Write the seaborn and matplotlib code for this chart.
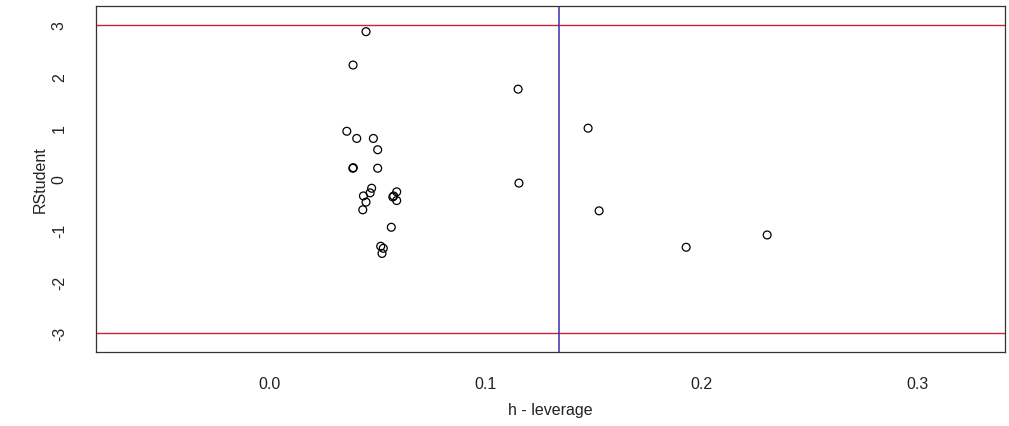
import matplotlib
matplotlib.use("Agg")
import matplotlib.pyplot as plt
import seaborn as sns
import pandas as pd

# Data
leverage = [0.0449, 0.0389, 0.1153, 0.1477, 0.0360, 0.0406, 0.0483, 0.0503,
            0.0388, 0.0390, 0.0503, 0.1157, 0.0475, 0.0468, 0.0437, 0.0449,
            0.0434, 0.0591, 0.0573, 0.0577, 0.0591, 0.1528, 0.0566, 0.0517,
            0.0529, 0.0523, 0.1931, 0.2306]
rstudent = [2.87, 2.22, 1.75, 0.99, 0.93, 0.79, 0.79, 0.57,
            0.21, 0.22, 0.21, -0.08, -0.18, -0.27, -0.33, -0.45,
            -0.60, -0.25, -0.35, -0.33, -0.42, -0.62, -0.94, -1.31,
            -1.35, -1.45, -1.33, -1.09]
h_cutoff = 0.1343
r_cutoffs = [3, -3]
x_ticks = [0.0, 0.1, 0.2, 0.3]
y_ticks = [-3, -2, -1, 0, 1, 2, 3]

df = pd.DataFrame({"h": leverage, "r": rstudent})

sns.set_style("white")
plt.rcParams['font.family'] = ['Liberation Sans', 'DejaVu Sans']

fig = plt.figure(figsize=(10.09, 4.27), dpi=100)
ax = fig.add_axes([96/1009, (427-353)/427, (1005-96)/1009, (353-7)/427])

sns.scatterplot(data=df, x="h", y="r", ax=ax, marker="o", s=32,
                facecolor="none", edgecolor="black", linewidth=0.9, legend=False)

for yc in r_cutoffs:
    ax.axhline(yc, color="#cc2235", linewidth=1.0, zorder=1)
ax.axvline(h_cutoff, color="#3a2fa8", linewidth=1.1, zorder=1)

ax.set_xlim(-0.0801, 0.3407)
ax.set_ylim(-3.37, 3.37)
ax.set_xticks(x_ticks)
ax.set_xticklabels([f"{v:.1f}" for v in x_ticks])
ax.set_yticks(y_ticks)
ax.set_yticklabels([str(v) for v in y_ticks], rotation=90, va="center")
ax.tick_params(axis="both", direction="out", length=7, width=0.8,
               colors="#333333", labelsize=11.5, labelcolor="#222222")
ax.tick_params(axis="x", pad=10)
ax.tick_params(axis="y", pad=14)
ax.set_xlabel("h - leverage", fontsize=11.5, color="#222222", labelpad=8)
ax.set_ylabel("RStudent", fontsize=11.5, color="#222222", labelpad=3)
for sp in ax.spines.values():
    sp.set_color("#333333")
    sp.set_linewidth(0.9)

fig.savefig("out.png", dpi=100)
